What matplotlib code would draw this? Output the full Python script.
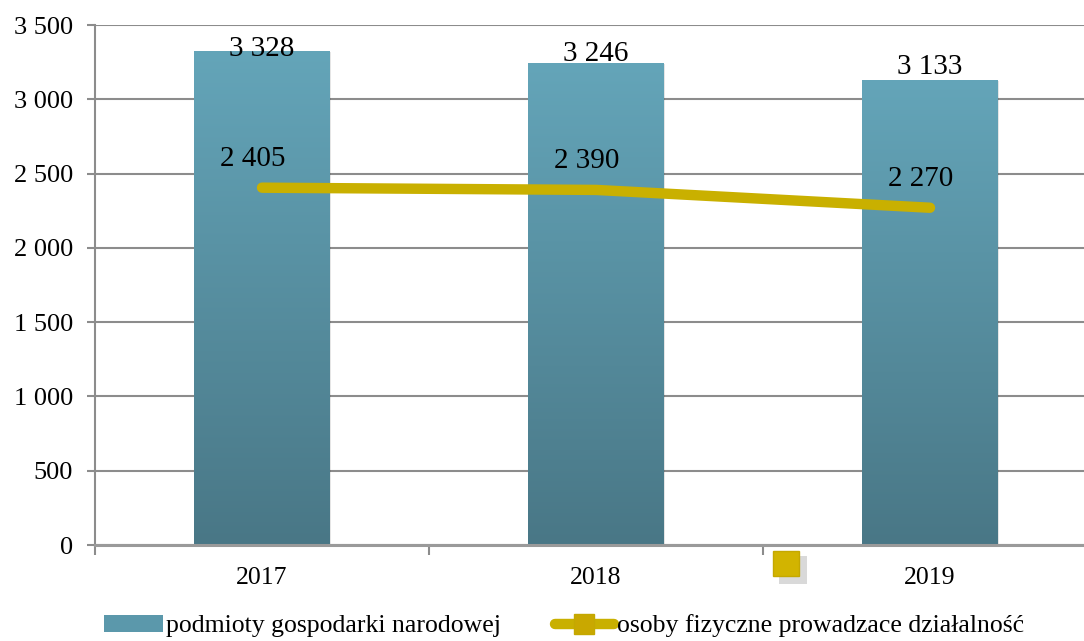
import matplotlib
matplotlib.use("Agg")
import numpy as np
import matplotlib.pyplot as plt
from matplotlib.patches import Rectangle, Patch
from matplotlib.lines import Line2D
from matplotlib.colors import LinearSegmentedColormap
from matplotlib.ticker import FuncFormatter, FixedLocator

# DANE
lata = ["2017", "2018", "2019"]
podmioty = [3328, 3246, 3133]
osoby = [2405, 2390, 2270]
y_ticks = [0, 500, 1000, 1500, 2000, 2500, 3000, 3500]

# przesuniecie etykiet slupkow (pt)
label_dy = [-4, 1, 4]

plt.rcParams["font.family"] = ["Liberation Serif", "DejaVu Serif"]

fig = plt.figure(figsize=(10.84, 6.41), dpi=100)
ax = fig.add_axes([95 / 1084, 1 - 545 / 641, 1002 / 1084, 520 / 641])

x = np.arange(len(lata))
bar_w = 0.405
cmap = LinearSegmentedColormap.from_list("bar", ["#497786", "#64a5b9"])
grad = np.linspace(0, 1, 256).reshape(-1, 1)

for xi, v, dy in zip(x, podmioty, label_dy):
    # cien
    sh = Rectangle((xi - bar_w / 2 + 0.004, -8), bar_w, v, facecolor="#000000",
                   alpha=0.10, edgecolor="none", zorder=1.5)
    ax.add_patch(sh)
    rect = Rectangle((xi - bar_w / 2, 0), bar_w, v, facecolor="none",
                     edgecolor="none", zorder=2)
    ax.add_patch(rect)
    im = ax.imshow(grad, extent=[xi - bar_w / 2, xi + bar_w / 2, 0, v],
                   origin="lower", aspect="auto", cmap=cmap, zorder=2)
    im.set_clip_path(rect)
    ax.annotate(f"{v:,}".replace(",", " "), (xi, v), xytext=(0, dy),
                textcoords="offset points", ha="center", va="baseline",
                fontsize=21, zorder=5)

ax.plot(x, osoby, color="#c9b000", lw=7.5, solid_capstyle="round",
        solid_joinstyle="round", zorder=3)
for xi, v in zip(x, osoby):
    ax.annotate(f"{v:,}".replace(",", " "), (xi, v), xytext=(-7, 15.5),
                textcoords="offset points", ha="center", va="baseline",
                fontsize=21, zorder=5)

ax.set_xlim(-0.5, 2.5)
ax.set_ylim(0, 3500)

# osie
ax.set_yticks(y_ticks)
ax.yaxis.set_major_formatter(FuncFormatter(lambda v, p: f"{int(v):,}".replace(",", " ")))
ax.set_xticks(x)
ax.set_xticklabels(lata)
ax.xaxis.set_minor_locator(FixedLocator([-0.5, 0.5, 1.5, 2.5]))
ax.tick_params(axis="x", which="major", length=0, pad=16, labelsize=18.5)
ax.tick_params(axis="x", which="minor", length=7, width=1.5, color="#8c8c8c")
ax.tick_params(axis="y", length=6, width=1.5, color="#8c8c8c", pad=10, labelsize=19)
ax.grid(axis="y", color="#8c8c8c", lw=1.5, zorder=0)
ax.set_axisbelow(True)
for s in ["top", "right"]:
    ax.spines[s].set_visible(False)
ax.spines["left"].set_color("#8c8c8c")
ax.spines["left"].set_linewidth(1.5)
ax.spines["bottom"].set_color("#9a9a9a")
ax.spines["bottom"].set_linewidth(2.2)
ax.spines["bottom"].set_zorder(4)

# zabłąkany znacznik
fig.patches.append(Rectangle((779 / 1084, 1 - 584 / 641), 28 / 1084, 28 / 641,
                             transform=fig.transFigure, facecolor="#000000",
                             alpha=0.15, edgecolor="none"))
fig.patches.append(Rectangle((773 / 1084, 1 - 576 / 641), 26 / 1084, 25 / 641,
                             transform=fig.transFigure, facecolor="#d2b400",
                             edgecolor="#c4a800", lw=1))

# legenda
handles = [Patch(facecolor="#5b98ab", edgecolor="none"),
           Line2D([], [], color="#c9b000", lw=7.5, solid_capstyle="round",
                  marker="s", markersize=14, markerfacecolor="#c9a800",
                  markeredgecolor="#c4a800")]
fig.legend(handles, ["podmioty gospodarki narodowej",
                     "osoby fizyczne prowadzace działalność"],
           loc="center", bbox_to_anchor=(564 / 1084, 1 - 626 / 641), ncol=2,
           frameon=False, fontsize=18.5, handlelength=2.3, handletextpad=0.1,
           columnspacing=2.1, handleheight=0.6, borderpad=0.1)

fig.savefig("out.png", dpi=100)
